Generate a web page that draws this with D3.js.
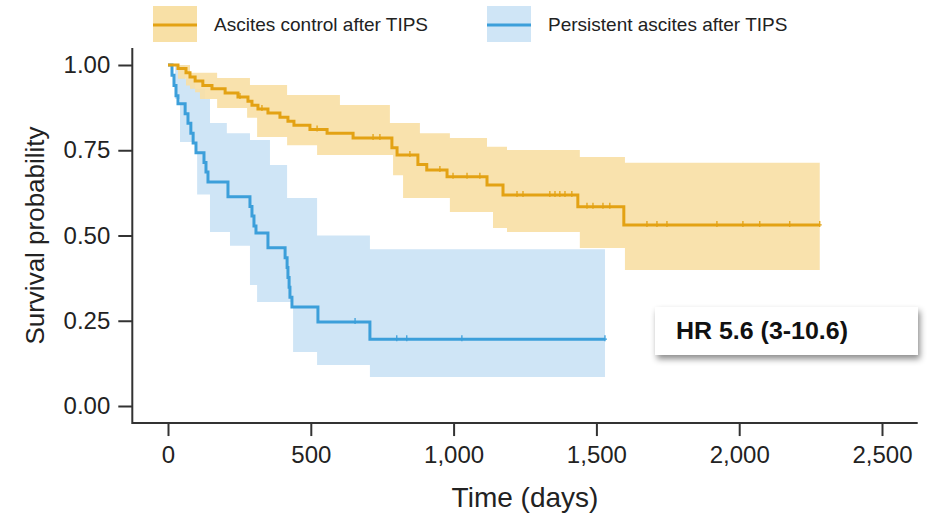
<!DOCTYPE html>
<html>
<head>
<meta charset="utf-8">
<script src="https://cdn.jsdelivr.net/npm/d3@7"></script>
<style>
  html, body { margin: 0; padding: 0; background: #fff; }
  svg { display: block; font-family: "Liberation Sans", Arial, sans-serif; }
</style>
</head>
<body>
<svg id="chart" width="936" height="520"></svg>
<script>
// Kaplan-Meier survival after TIPS, two groups

const groups = ["Ascites control after TIPS", "Persistent ascites after TIPS"];

// Ascites control: step times (days) and survival estimates
const controlTime = [0, 35, 63, 77, 95, 122, 154, 200, 245, 280, 294, 315, 350, 392, 420, 441, 497, 557, 648, 784, 802, 875, 906, 977, 1117, 1173, 1435, 1596];
const controlSurv = [1.0, 0.99, 0.977, 0.965, 0.953, 0.94, 0.93, 0.918, 0.906, 0.894, 0.882, 0.871, 0.859, 0.847, 0.835, 0.823, 0.811, 0.80, 0.786, 0.757, 0.736, 0.708, 0.692, 0.672, 0.648, 0.619, 0.584, 0.531];
const controlEnd = 2282;
const controlCensor = [252, 329, 522, 718, 742, 847, 952, 998, 1047, 1092, 1222, 1243, 1337, 1355, 1372, 1390, 1414, 1467, 1488, 1523, 1547, 1677, 1712, 1747, 1922, 2013, 2072, 2177, 2282];
// Ascites control: 95% confidence band
const controlCiTime  = [0, 35, 63, 77, 95, 112, 172, 277, 287, 312, 417, 522, 602, 777, 788, 823, 882, 987, 1117, 1138, 1187, 1442, 1600];
const controlCiLower = [1, 0.96, 0.94, 0.93, 0.92, 0.90, 0.874, 0.845, 0.845, 0.789, 0.765, 0.736, 0.736, 0.736, 0.677, 0.61, 0.61, 0.569, 0.569, 0.522, 0.51, 0.463, 0.399];
const controlCiUpper = [1, 1, 1, 0.977, 0.977, 0.977, 0.962, 0.962, 0.941, 0.941, 0.912, 0.912, 0.883, 0.83, 0.83, 0.83, 0.80, 0.786, 0.76, 0.76, 0.751, 0.73, 0.713];

// Persistent ascites: step times (days) and survival estimates
const persistTime = [0, 14, 21, 28, 35, 60, 70, 80, 88, 98, 126, 133, 140, 210, 287, 294, 301, 308, 350, 410, 417, 420, 424, 427, 434, 525, 707];
const persistSurv = [1.0, 0.97, 0.94, 0.91, 0.886, 0.857, 0.829, 0.80, 0.771, 0.743, 0.714, 0.686, 0.657, 0.614, 0.585, 0.557, 0.528, 0.507, 0.464, 0.435, 0.406, 0.377, 0.348, 0.319, 0.29, 0.246, 0.196];
const persistEnd = 1530;
const persistCensor = [655, 801, 836, 1029, 1530];
// Persistent ascites: 95% confidence band
const persistCiTime  = [0, 25, 42, 60, 95, 102, 130, 147, 206, 217, 287, 312, 357, 417, 438, 522, 707];
const persistCiLower = [1, 0.90, 0.774, 0.774, 0.774, 0.62, 0.62, 0.51, 0.51, 0.47, 0.355, 0.305, 0.305, 0.305, 0.158, 0.12, 0.085];
const persistCiUpper = [1, 1, 1, 0.96, 0.93, 0.93, 0.90, 0.83, 0.80, 0.80, 0.78, 0.78, 0.707, 0.61, 0.61, 0.50, 0.46];

// Axis ticks
const xTicks = [0, 500, 1000, 1500, 2000, 2500];
const xTickLabels = ["0", "500", "1,000", "1,500", "2,000", "2,500"];
const yTicks = [0, 0.25, 0.5, 0.75, 1];
const yTickLabels = ["0.00", "0.25", "0.50", "0.75", "1.00"];

const hrLabel = "HR 5.6 (3-10.6)";

const colors = {
  control: { line: "#E3A214", band: "#F8E0A6" },
  persist: { line: "#3C9FDA", band: "#CFE5F6" }
};

const svg = d3.select("#chart");

const x = d3.scaleLinear().domain([0, 2500]).range([168, 882]);
const y = d3.scaleLinear().domain([0, 1]).range([406, 65]);
const xMin = -125, xMax = 2625, yMin = -0.05, yMax = 1.05;

// Build step series
function series(times, vals, end) {
  const s = times.map((t, i) => ({ t, v: vals[i] }));
  s.push({ t: end, v: vals[vals.length - 1] });
  return s;
}
function band(times, lo, hi, end) {
  const s = times.map((t, i) => ({ t, lo: lo[i], hi: hi[i] }));
  s.push({ t: end, lo: lo[lo.length - 1], hi: hi[hi.length - 1] });
  return s;
}
function survAt(times, vals, t) {
  let v = vals[0];
  for (let i = 0; i < times.length; i++) if (times[i] <= t) v = vals[i];
  return v;
}

const area = d3.area()
  .x(d => x(d.t)).y0(d => y(d.lo)).y1(d => y(d.hi))
  .curve(d3.curveStepAfter);
const line = d3.line()
  .x(d => x(d.t)).y(d => y(d.v))
  .curve(d3.curveStepAfter);

const plot = svg.append("g");

// Confidence bands
plot.append("path")
  .attr("d", area(band(persistCiTime, persistCiLower, persistCiUpper, persistEnd)))
  .attr("fill", colors.persist.band);
plot.append("path")
  .attr("d", area(band(controlCiTime, controlCiLower, controlCiUpper, controlEnd)))
  .attr("fill", colors.control.band)
  .attr("fill-opacity", 0.92);

// Survival curves
plot.append("path")
  .attr("d", line(series(persistTime, persistSurv, persistEnd)))
  .attr("fill", "none").attr("stroke", colors.persist.line).attr("stroke-width", 3);
plot.append("path")
  .attr("d", line(series(controlTime, controlSurv, controlEnd)))
  .attr("fill", "none").attr("stroke", colors.control.line).attr("stroke-width", 3);

// Censoring marks
function censor(times, svals, stimes, col) {
  plot.append("g").selectAll("path").data(times).join("path")
    .attr("d", t => {
      const cx = x(t), cy = y(survAt(stimes, svals, t));
      return `M${cx},${cy - 4}V${cy + 2}M${cx - 2},${cy}H${cx + 2}`;
    })
    .attr("stroke", col).attr("stroke-width", 1.3).attr("fill", "none");
}
censor(controlCensor, controlSurv, controlTime, colors.control.line);
censor(persistCensor, persistSurv, persistTime, colors.persist.line);

// Axes
const axisColor = "#333";
const yAxis = svg.append("g")
  .attr("transform", `translate(${x(xMin)},0)`)
  .call(d3.axisLeft(y).tickValues(yTicks).tickFormat((d, i) => yTickLabels[i]).tickSize(14).tickPadding(8));
const xAxis = svg.append("g")
  .attr("transform", `translate(0,${y(yMin)})`)
  .call(d3.axisBottom(x).tickValues(xTicks).tickFormat((d, i) => xTickLabels[i]).tickSize(13).tickPadding(10));
[xAxis, yAxis].forEach(a => {
  a.select(".domain").remove();
  a.selectAll(".tick line").attr("stroke", axisColor).attr("stroke-width", 2);
  a.selectAll(".tick text").attr("fill", "#222").attr("font-size", 24)
    .attr("font-family", "'Liberation Sans', Arial, sans-serif");
});
svg.append("path")
  .attr("d", `M${x(xMin)},${y(yMax)}V${y(yMin)}H${x(xMax)}`)
  .attr("fill", "none").attr("stroke", axisColor).attr("stroke-width", 2);

// Axis titles
svg.append("text")
  .attr("x", (x(xMin) + x(xMax)) / 2).attr("y", 507)
  .attr("text-anchor", "middle").attr("font-size", 28).attr("fill", "#222")
  .text("Time (days)");
svg.append("text")
  .attr("transform", `translate(44,${(y(yMin) + y(yMax)) / 2}) rotate(-90)`)
  .attr("text-anchor", "middle").attr("font-size", 26).attr("fill", "#222")
  .text("Survival probability");

// Legend
const legendItems = [
  { name: groups[0], c: colors.control, x: 153 },
  { name: groups[1], c: colors.persist, x: 487 }
];
const lg = svg.append("g");
legendItems.forEach(it => {
  lg.append("rect").attr("x", it.x).attr("y", 6).attr("width", 44).attr("height", 36)
    .attr("fill", it.c.band);
  lg.append("line").attr("x1", it.x).attr("x2", it.x + 44).attr("y1", 25).attr("y2", 25)
    .attr("stroke", it.c.line).attr("stroke-width", 3);
  lg.append("text").attr("x", it.x + 61).attr("y", 24).attr("dy", "0.35em")
    .attr("font-size", 19).attr("fill", "#222").text(it.name);
});

// Hazard ratio annotation box
const defs = svg.append("defs");
const f = defs.append("filter").attr("id", "shadow")
  .attr("x", "-10%").attr("y", "-20%").attr("width", "130%").attr("height", "170%");
f.append("feDropShadow").attr("dx", 2).attr("dy", 4).attr("stdDeviation", 3)
  .attr("flood-color", "#000").attr("flood-opacity", 0.45);
svg.append("rect").attr("x", 655).attr("y", 307).attr("width", 263).attr("height", 48)
  .attr("fill", "#fff").attr("filter", "url(#shadow)");
svg.append("text").attr("x", 676).attr("y", 331).attr("dy", "0.35em")
  .attr("font-size", 24).attr("font-weight", "bold").attr("fill", "#111")
  .attr("textLength", 172).attr("lengthAdjust", "spacingAndGlyphs")
  .text(hrLabel);
</script>
</body>
</html>
